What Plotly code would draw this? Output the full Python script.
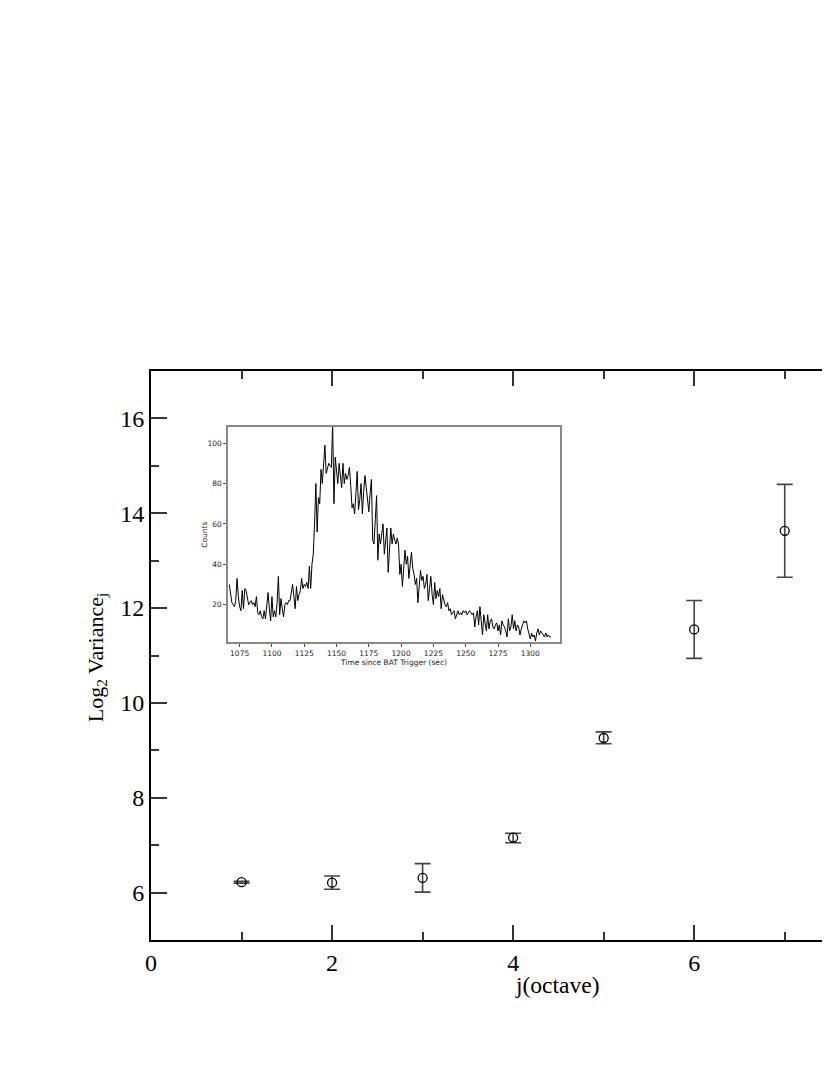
import plotly.graph_objects as go

# main panel: wavelet log2 variance per octave
octave = [1, 2, 3, 4, 5, 6, 7]
log2_var = [6.22, 6.21, 6.31, 7.16, 9.26, 11.55, 13.63]
err_plus = [0.02, 0.14, 0.30, 0.09, 0.13, 0.61, 0.98]
err_minus = [0.02, 0.14, 0.30, 0.11, 0.12, 0.61, 0.98]

# inset: BAT light curve, 1 s bins starting at 1067 s
lc_t0 = 1067
lc_counts = [
    30, 24, 21, 20, 19, 22, 33, 24, 19, 17,
    27, 18, 28, 27, 24, 20, 21, 22, 20, 21,
    19, 24, 16, 15, 17, 14, 13, 17, 13, 20,
    26, 18, 12, 24, 14, 17, 14, 21, 34, 15,
    23, 18, 14, 20, 21, 20, 22, 22, 26, 30,
    24, 18, 29, 22, 25, 27, 33, 28, 30, 29,
    31, 28, 39, 28, 40, 45, 60, 80, 56, 73,
    70, 87, 80, 92, 99, 85, 88, 90, 89, 88,
    110, 70, 93, 85, 80, 90, 84, 78, 90, 80,
    85, 82, 84, 88, 79, 68, 70, 65, 75, 86,
    67, 72, 80, 65, 76, 84, 78, 70, 66, 75,
    82, 52, 50, 62, 74, 42, 55, 50, 54, 60,
    45, 52, 58, 36, 48, 58, 50, 55, 52, 50,
    53, 50, 35, 40, 29, 38, 47, 40, 44, 33,
    40, 46, 38, 35, 30, 33, 21, 30, 37, 32,
    34, 28, 30, 35, 22, 28, 34, 25, 20, 31,
    23, 27, 24, 28, 18, 25, 22, 20, 19, 21,
    17, 18, 15, 16, 17, 13, 15, 17, 15, 16,
    15, 17, 16, 17, 15, 16, 17, 16, 15, 16,
    9, 14, 17, 10, 19, 12, 5, 15, 10, 7,
    15, 8, 12, 13, 9, 8, 10, 11, 7, 10,
    5, 12, 10, 9, 7, 4, 13, 7, 9, 15,
    8, 12, 7, 10, 9, 5, 8, 10, 12, 11,
    12, 8, 6, 3, 6, 4, 5, 2, 6, 8,
    5, 7, 6, 5, 4, 6, 4, 5, 4, 4,
]
lc_time = [lc_t0 + i for i in range(len(lc_counts))]

SERIF = "Liberation Serif, Times New Roman, serif"
SANS = "DejaVu Sans, sans-serif"

fig = go.Figure()

fig.add_trace(go.Scatter(
    x=octave, y=log2_var,
    mode="markers",
    marker=dict(symbol="circle-open", size=9, color="black",
                line=dict(width=1.3, color="black")),
    error_y=dict(type="data", symmetric=False, array=err_plus,
                 arrayminus=err_minus, color="#444", thickness=1.6, width=8),
    showlegend=False,
))

fig.add_trace(go.Scatter(
    x=lc_time, y=lc_counts,
    mode="lines",
    line=dict(color="black", width=1),
    xaxis="x2", yaxis="y2",
    showlegend=False,
))

# page body has an 8px margin; keep the page inside the window
fig.update_layout(
    width=822, height=1059,
    margin=dict(l=143, r=0, t=363, b=127),
    paper_bgcolor="white",
    plot_bgcolor="white",
    font=dict(family=SERIF, color="black"),
    xaxis=dict(
        range=[0, 7.5], dtick=2, tick0=0,
        ticks="inside", ticklen=15, tickwidth=1.5, tickcolor="#333",
        minor=dict(dtick=1, ticks="inside", ticklen=8, tickwidth=1.5,
                   tickcolor="#333"),
        showline=True, linecolor="black", linewidth=2, mirror="ticks",
        showgrid=False, zeroline=False,
        tickfont=dict(family=SERIF, size=24),
    ),
    yaxis=dict(
        range=[5, 17], dtick=2, tick0=0,
        ticks="inside", ticklen=16, tickwidth=1.5, tickcolor="#333",
        minor=dict(dtick=1, ticks="inside", ticklen=8, tickwidth=1.5,
                   tickcolor="#333"),
        showline=True, linecolor="black", linewidth=2, mirror=False,
        showgrid=False, zeroline=False,
        tickfont=dict(family=SERIF, size=24),
    ),
    xaxis2=dict(
        domain=[0.1134, 0.6024], anchor="y2",
        range=[1066, 1323], dtick=25, tick0=1075,
        ticks="outside", ticklen=3, tickcolor="#555",
        showline=True, linecolor="#888", linewidth=1.5, mirror=True,
        showgrid=False, zeroline=False,
        tickfont=dict(family=SANS, size=7.5, color="#222"),
        title=dict(text="Time since BAT Trigger (sec)", standoff=2,
                   font=dict(family=SANS, size=7.5, color="#222")),
    ),
    yaxis2=dict(
        domain=[0.5237, 0.9016], anchor="x2",
        range=[1.5, 108], tickvals=[20, 40, 60, 80, 100],
        ticks="outside", ticklen=3, tickcolor="#555",
        showline=True, linecolor="#888", linewidth=1.5, mirror=True,
        showgrid=False, zeroline=False,
        tickfont=dict(family=SANS, size=7.5, color="#222"),
    ),
    annotations=[
        dict(text="Counts", xref="paper", yref="paper",
             x=0.0795, y=0.712, xanchor="center", yanchor="middle",
             textangle=-90, showarrow=False,
             font=dict(family=SANS, size=7.5, color="#222")),
        dict(text="j(octave)", xref="paper", yref="paper",
             x=0.5994, y=-0.079, xanchor="center", yanchor="middle",
             showarrow=False, font=dict(family=SERIF, size=23.5)),
        dict(text="Log<sub>2</sub> Variance<sub>j</sub>",
             xref="paper", yref="paper", x=-0.0795, y=0.497,
             xanchor="center", yanchor="middle", textangle=-90,
             showarrow=False, font=dict(family=SERIF, size=22)),
    ],
)

fig.write_html("out.html")
